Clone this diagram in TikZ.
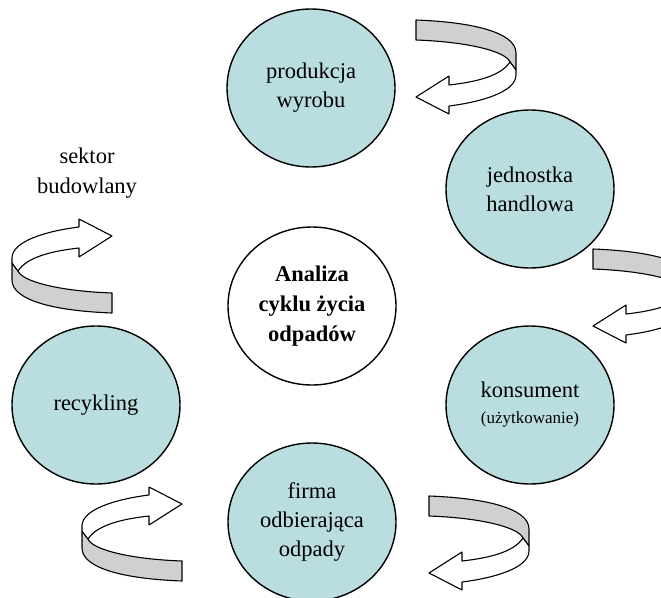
\documentclass[tikz,border=0pt]{standalone}
\usepackage{fontspec}
\setmainfont{Liberation Serif}
\usetikzlibrary{shapes.geometric}
\definecolor{cyklteal}{HTML}{BADDE0}
\definecolor{cyklgray}{HTML}{CFD0D2}

\tikzset{
  etap/.style={ellipse,draw,line width=1.4pt,fill=cyklteal,
    minimum width=168pt,minimum height=158pt,inner sep=0pt,align=center,
    font=\fontsize{22.5}{29}\selectfont},
  srodek/.style={etap,fill=white,font=\bfseries\fontsize{22.5}{30}\selectfont},
  wstega/.style={draw,line width=1.1pt,line join=round},
  % zawijana strzalka: wstega z tylu, grot z przodu
  zwrot/.pic={
    \path[wstega,fill=cyklgray] (0,0) .. controls (55,2) and (100,12) .. (100,33)
      -- (100,50) -- (94,42) .. controls (90,32) and (55,22) .. (0,20) -- cycle;
    \path[wstega,fill=white] (94,42) .. controls (85,56) and (60,62) .. (33,65)
      -- (33,56) -- (0,77) -- (33,94) -- (33,86)
      .. controls (65,82) and (100,72) .. (100,55) -- (100,50) -- cycle;
  }
}

\begin{document}
\begin{tikzpicture}[x=1pt,y=-1pt]
  \useasboundingbox (0,0) rectangle (661,597);
  \clip (0,0) rectangle (661,597);

  % strzalki
  \pic at (416,20) {zwrot};
  \pic at (593,249) {zwrot};
  \pic at (429,496) {zwrot};
  \pic[rotate=180] at (112,313) {zwrot};
  \pic[rotate=180] at (182,581) {zwrot};

  % etapy cyklu
  \node[etap] (produkcja) at (311,88) {produkcja\\wyrobu};
  \node[etap] (handel) at (530,189) {jednostka\\handlowa};
  \node[etap] (konsument) at (530,405) {konsument\\[-3pt]{\fontsize{17}{22}\selectfont(użytkowanie)}};
  \node[etap] (firma) at (312,522) {firma\\odbierająca\\odpady};
  \node[etap] (recykling) at (96,405) {recykling};
  \node[srodek] (analiza) at (312,306) {Analiza\\cyklu życia\\odpadów};

  \node[align=center,font=\fontsize{22.5}{30}\selectfont] (sektor) at (87,173) {sektor\\budowlany};
\end{tikzpicture}
\end{document}
